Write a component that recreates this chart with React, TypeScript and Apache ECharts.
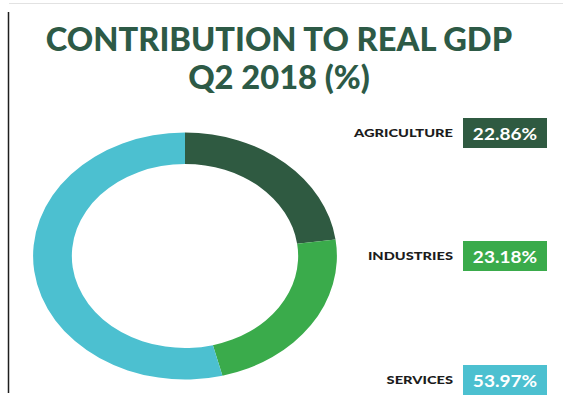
import React, { useEffect, useRef } from "react";
import * as echarts from "echarts";

// Sector names, shares (%) and colours
const sectors = ["AGRICULTURE", "INDUSTRIES", "SERVICES"];
const shares = [22.86, 23.18, 53.97];
const colors = ["#2f5a41", "#3aab4b", "#4cc0d0"];

const titleLines = ["CONTRIBUTION TO REAL GDP", "Q2 2018 (%)"];

// Donut geometry: drawn as a circle, then stretched horizontally
const CX = 185;
const CY = 256;
const R_OUT = 123.5;
const R_IN = 92;
const STRETCH = 1.23;

// Legend rows
const rowY = [133, 256, 380];

export default function App() {
  const ref = useRef<HTMLDivElement>(null);

  useEffect(() => {
    document.body.style.margin = "0";
    if (!ref.current) return;
    const chart = echarts.init(ref.current, null, { renderer: "svg" });
    const total = shares.reduce((a, b) => a + b, 0);

    const graphics: any[] = [
      // frame lines
      {
        type: "line",
        shape: { x1: 8.5, y1: 12, x2: 8.5, y2: 393 },
        style: { stroke: "#1e1e1e", lineWidth: 1.5 },
      },
      {
        type: "line",
        shape: { x1: 9, y1: 3.5, x2: 563, y2: 3.5 },
        style: { stroke: "#e2e2e2", lineWidth: 1 },
      },
    ];

    titleLines.forEach((t, i) => {
      graphics.push({
        type: "text",
        x: 279,
        y: i === 0 ? 39 : 77,
        scaleX: 1.02,
        style: {
          text: t,
          fill: "#2d5a46",
          font: "900 32px Lato",
          textAlign: "center",
          textVerticalAlign: "middle",
        },
      });
    });

    sectors.forEach((name, i) => {
      graphics.push({
        type: "text",
        x: 453,
        y: rowY[i],
        scaleX: 1.22,
        style: {
          text: name,
          fill: "#1c1c1c",
          font: "900 12px Lato",
          textAlign: "right",
          textVerticalAlign: "middle",
        },
      });
      graphics.push({
        type: "rect",
        shape: { x: 463, y: rowY[i] - 15, width: 84, height: 30 },
        style: { fill: colors[i] },
      });
      graphics.push({
        type: "text",
        x: 505,
        y: rowY[i],
        scaleX: 1.12,
        style: {
          text: shares[i].toFixed(2) + "%",
          fill: "#ffffff",
          font: "bold 17px Lato",
          textAlign: "center",
          textVerticalAlign: "middle",
        },
      });
    });

    chart.setOption({
      animation: false,
      graphic: graphics,
      series: [
        {
          type: "custom",
          coordinateSystem: "none",
          data: shares.map((v, i) => ({ value: [v], itemStyle: { color: colors[i] } })),
          renderItem: (params: any, api: any) => {
            const idx = params.dataIndex;
            let before = 0;
            for (let k = 0; k < idx; k++) before += shares[k];
            const v = api.value(0);
            const a0 = -Math.PI / 2 + (before / total) * Math.PI * 2;
            const a1 = -Math.PI / 2 + ((before + v) / total) * Math.PI * 2;
            return {
              type: "sector",
              x: CX,
              y: CY,
              scaleX: STRETCH,
              shape: { cx: 0, cy: 0, r: R_OUT, r0: R_IN, startAngle: a0, endAngle: a1, clockwise: true },
              style: { fill: colors[idx] },
            };
          },
        },
      ],
    });

    return () => chart.dispose();
  }, []);

  return <div ref={ref} style={{ width: 563, height: 416, background: "#fff" }} />;
}
